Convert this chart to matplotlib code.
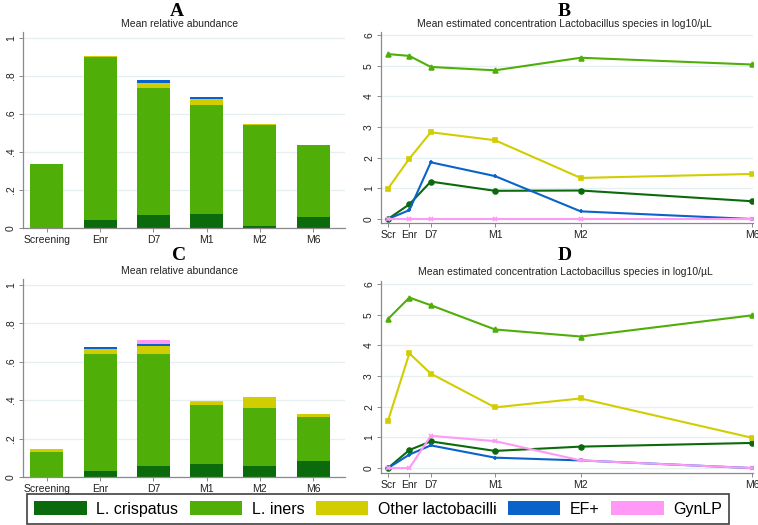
import numpy as np
import matplotlib
matplotlib.use("Agg")
import matplotlib.pyplot as plt
from matplotlib.patches import Patch

plt.rcParams['font.family'] = ['Liberation Sans', 'DejaVu Sans']

W, H = 758, 525

series = ["L. crispatus", "L. iners", "Other lactobacilli", "EF+", "GynLP"]
colors = ["#0b6a0b", "#4fae08", "#d2cd00", "#0a63c8", "#ff99f5"]
markers = ["o", "^", "s", "+", "x"]

bar_labels = ["Screening", "Enr", "D7", "M1", "M2", "M6"]
line_labels = ["Scr", "Enr", "D7", "M1", "M2", "M6"]
line_x = [0, 2, 4, 10, 18, 34]  # weeks-ish spacing of visits

# panel A: mean relative abundance (stacked segments)
a_crisp = [0.0, 0.042, 0.070, 0.074, 0.012, 0.060]
a_iners = [0.339, 0.858, 0.669, 0.575, 0.532, 0.375]
a_other = [0.0, 0.003, 0.022, 0.028, 0.005, 0.004]
a_ef = [0.0, 0.0, 0.016, 0.012, 0.0, 0.0]
a_gyn = [0.0, 0.0, 0.0, 0.0, 0.0, 0.0]

# panel C
c_crisp = [0.0, 0.033, 0.055, 0.069, 0.059, 0.085]
c_iners = [0.132, 0.607, 0.586, 0.304, 0.301, 0.230]
c_other = [0.014, 0.029, 0.042, 0.019, 0.058, 0.011]
c_ef = [0.0, 0.007, 0.010, 0.0, 0.0, 0.0]
c_gyn = [0.0, 0.0, 0.021, 0.003, 0.0, 0.0]

# panel B: log10 concentration
b_crisp = [0.0, 0.48, 1.22, 0.92, 0.93, 0.58]
b_iners = [5.38, 5.32, 4.96, 4.85, 5.26, 5.04]
b_other = [0.99, 1.97, 2.83, 2.57, 1.34, 1.47]
b_ef = [0.0, 0.29, 1.85, 1.40, 0.25, 0.0]
b_gyn = [0.0, 0.0, 0.0, 0.0, 0.0, 0.0]

# panel D
d_crisp = [0.0, 0.59, 0.87, 0.56, 0.70, 0.82]
d_iners = [4.86, 5.56, 5.31, 4.52, 4.29, 4.98]
d_other = [1.54, 3.74, 3.08, 1.98, 2.27, 0.99]
d_ef = [0.0, 0.44, 0.74, 0.34, 0.25, 0.0]
d_gyn = [0.0, 0.0, 1.05, 0.88, 0.25, 0.0]

fig = plt.figure(figsize=(W / 100, H / 100), dpi=100)
fig.patch.set_facecolor("white")


def px_axes(l, t, r, b):
    return fig.add_axes([l / W, 1 - b / H, (r - l) / W, (b - t) / H])


def style(ax):
    for s in ["top", "right"]:
        ax.spines[s].set_visible(False)
    for s in ["left", "bottom"]:
        ax.spines[s].set_color("#8a8a8a")
        ax.spines[s].set_linewidth(0.9)
    ax.tick_params(colors="#8a8a8a", labelcolor="#222222", labelsize=7.5,
                   length=3, width=0.7, pad=2)
    ax.yaxis.grid(True, color="#e6eff1", linewidth=0.9)
    ax.set_axisbelow(True)
    for t in ax.get_yticklabels():
        t.set_rotation(90)
        t.set_va("center")


def bar_panel(ax, segs):
    x = np.arange(len(bar_labels))
    bottom = np.zeros(len(bar_labels))
    for vals, c in zip(segs, colors):
        ax.bar(x, vals, bottom=bottom, width=0.62, color=c, edgecolor="none")
        bottom += np.array(vals)
    ax.set_xlim(-0.45, 5.6)
    ax.set_ylim(0, 1.031)
    ax.set_xticks(x)
    ax.set_xticklabels(bar_labels)
    ax.set_yticks([0, 0.2, 0.4, 0.6, 0.8, 1.0])
    ax.set_yticklabels(["0", ".2", ".4", ".6", ".8", "1"])
    style(ax)


def line_panel(ax, lines, ylo):
    for vals, c, m in zip(lines, colors, markers):
        ax.plot(line_x, vals, color=c, lw=1.5, marker=m, markersize=3.5,
                markeredgewidth=1.2)
    ax.set_xlim(-0.65, 34.1)
    ax.set_ylim(ylo, 6.1)
    ax.set_xticks(line_x)
    ax.set_xticklabels(line_labels)
    ax.set_yticks(range(7))
    style(ax)


axA = px_axes(23, 32, 345, 228)
bar_panel(axA, [a_crisp, a_iners, a_other, a_ef, a_gyn])
axC = px_axes(23, 279, 345, 477)
bar_panel(axC, [c_crisp, c_iners, c_other, c_ef, c_gyn])

axB = px_axes(381, 32, 753, 223)
line_panel(axB, [b_crisp, b_iners, b_other, b_ef, b_gyn], -0.13)
axD = px_axes(381, 281, 753, 473)
line_panel(axD, [d_crisp, d_iners, d_other, d_ef, d_gyn], -0.16)

# panel letters and subtitles
for letter, x, y in [("A", 177, 11), ("B", 564, 11), ("C", 179, 255), ("D", 565, 255)]:
    fig.text(x / W, 1 - y / H, letter, ha="center", va="center",
             fontsize=14, fontweight="bold", family="Liberation Serif")
for txt, x, y in [("Mean relative abundance", 180, 24),
                  ("Mean estimated concentration Lactobacillus species in log10/\u00b5L", 564, 24),
                  ("Mean relative abundance", 180, 271),
                  ("Mean estimated concentration Lactobacillus species in log10/\u00b5L", 565, 272)]:
    fig.text(x / W, 1 - y / H, txt, ha="center", va="center", fontsize=7.5,
             color="#222222")

handles = [Patch(facecolor=c, edgecolor="none") for c in colors]
leg = fig.legend(handles, series, loc="center", ncol=5,
                 bbox_to_anchor=(378 / W, 1 - 509 / H),
                 prop={"family": "Liberation Sans", "size": 11.5},
                 frameon=True, fancybox=False, edgecolor="#111111",
                 handlelength=3.3, handleheight=0.9, handletextpad=0.6,
                 columnspacing=0.7, borderpad=0.45, borderaxespad=0)
leg.get_frame().set_linewidth(1.2)

fig.savefig("out.png", dpi=100)
